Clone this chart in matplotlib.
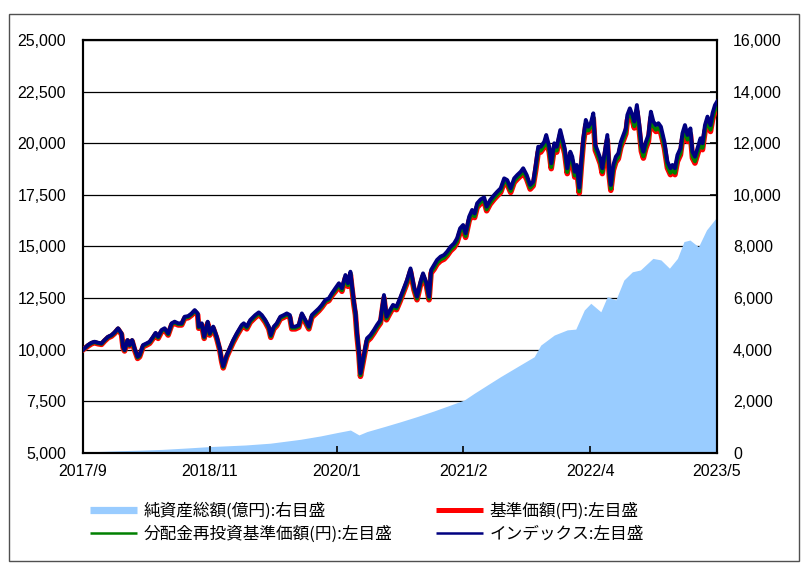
import matplotlib

matplotlib.use("Agg")

import matplotlib.pyplot as plt  # noqa: E402
import numpy as np  # noqa: E402
from matplotlib.lines import Line2D  # noqa: E402
from matplotlib.patches import Rectangle  # noqa: E402
from matplotlib.ticker import FuncFormatter  # noqa: E402

# --- data (x = trading-day index) ----------------------------------------
days = [
    0, 10, 17, 23, 30, 37, 43, 50, 57, 63, 70, 77, 80, 83, 89, 93, 98,
    103, 109, 113, 120, 127, 133, 140, 145, 150, 157, 163, 170, 177, 183,
    190, 197, 203, 210, 217, 223, 229, 231, 237, 242, 249, 253, 260, 267,
    273, 277, 280, 287, 293,
    300, 307, 317, 321, 327, 334, 344, 351, 357, 364, 371, 375, 381, 387,
    394, 401, 407, 413, 417, 424, 431, 437, 444, 451, 457, 464, 471, 477,
    484, 491, 497,
    504, 511, 517, 524, 529, 534, 537, 541, 544, 547, 551, 554, 557, 562,
    567, 574, 581, 587, 594, 601, 606, 613, 619, 626, 633, 641, 647, 654,
    661, 667, 674, 679, 686, 691, 695,
    701, 707, 714, 721, 727, 734, 741, 747, 753, 759, 764, 771, 777, 782,
    787, 794, 801, 806, 813, 821, 827, 834, 841, 847, 854, 861, 867, 874,
    879, 886, 893, 899,
    904, 909, 914, 921, 925, 931, 935, 941, 946, 953, 957, 962, 967, 973,
    977, 982, 986, 991, 995, 999, 1004, 1009, 1014, 1019, 1023, 1027, 1033,
    1037, 1043, 1047, 1051, 1054, 1059, 1064, 1069, 1074, 1079, 1084, 1087,
    1092, 1097,
    1101, 1106, 1111, 1115, 1119, 1124, 1129, 1134, 1139, 1144, 1149, 1154,
    1161, 1167, 1173, 1177, 1182, 1187, 1193, 1197, 1202, 1207, 1213, 1217,
    1222, 1227, 1233, 1237, 1242, 1247, 1253, 1257, 1262, 1266,
]

index_vals = [
    10000, 10230, 10340, 10390, 10340, 10310, 10470, 10630, 10710, 10840,
    11040, 10790, 10150, 9990, 10470, 10230, 10470,
    10070, 9660, 9740, 10230, 10310, 10390, 10630, 10820, 10630, 10960,
    11040, 10790, 11280, 11360, 11280, 11280, 11600, 11630, 11760, 11920,
    11760, 11120, 11280, 10630, 11360, 10790, 11120, 10630, 10070, 9500,
    9200, 9740, 10070,
    10470, 10790, 11200, 11280, 11120, 11440, 11680, 11810, 11680, 11440,
    11120, 10710, 11120, 11280, 11600, 11680, 11760, 11680, 11120, 11120,
    11200, 11760, 11440, 11120, 11680, 11840, 12000, 12170, 12410, 12490,
    12730,
    12980, 13220, 12980, 13620, 13220, 13780, 13130, 12330, 11840, 10870,
    9900, 8860, 9260, 9900, 10550, 10710, 10960, 11200, 11440, 12650, 11600,
    11920, 12170, 12090, 12490, 13000, 13380, 13940, 13050, 12570, 13300,
    13700, 13220, 12570, 13860,
    14100, 14350, 14510, 14590, 14750, 14990, 15150, 15400, 15880, 16040,
    15640, 16440, 16770, 16600, 17090, 17280, 17380, 16930, 17250, 17490,
    17650, 17820, 18300, 18220, 17820, 18300, 18460, 18620, 18790, 18460,
    17980, 18140,
    18950, 19830, 19830, 20070, 20400, 19830, 19030, 20000, 19830, 20640,
    20240, 19750, 18790, 19590, 19350, 18620, 18950, 17850, 19110, 20240,
    21130, 20800, 20970, 21450, 19920, 19670, 19270, 18790, 19750, 20400,
    18620, 17980, 18950, 19350, 19510, 20070, 20400, 20720, 21370, 21690,
    21370,
    21050, 21850, 20880, 19920, 19590, 20070, 20400, 21530, 21050, 20880,
    20970, 20800, 20070, 19110, 18790, 18950, 18790, 19430, 19750, 20480,
    20880, 20400, 20720, 19590, 19350, 19750, 20240, 20000, 20880, 21290,
    20880, 21450, 21850, 22010,
]

nav_reinvested = [
    10000, 10210, 10320, 10370, 10320, 10290, 10450, 10610, 10690, 10820,
    11020, 10770, 10130, 9970, 10450, 10210, 10450,
    10030, 9620, 9700, 10190, 10270, 10350, 10590, 10780, 10590, 10920,
    11000, 10750, 11240, 11320, 11240, 11240, 11560, 11590, 11720, 11880,
    11720, 11080, 11240, 10590, 11320, 10750, 11080, 10590, 10030, 9460,
    9160, 9700, 10030,
    10410, 10730, 11140, 11220, 11060, 11380, 11620, 11750, 11620, 11380,
    11060, 10650, 11060, 11220, 11540, 11620, 11700, 11620, 11060, 11060,
    11140, 11700, 11380, 11060, 11620, 11780, 11940, 12110, 12350, 12430,
    12670,
    12890, 13130, 12890, 13530, 13130, 13690, 13040, 12240, 11750, 10780,
    9810, 8770, 9170, 9810, 10460, 10620, 10870, 11110, 11350, 12560, 11510,
    11830, 12080, 12000, 12400, 12910, 13290, 13850, 12960, 12480, 13210,
    13610, 13130, 12480, 13770,
    13970, 14220, 14380, 14460, 14620, 14860, 15020, 15270, 15750, 15910,
    15510, 16310, 16640, 16470, 16960, 17150, 17250, 16800, 17120, 17360,
    17520, 17690, 18170, 18090, 17690, 18170, 18330, 18490, 18660, 18330,
    17850, 18010,
    18770, 19650, 19650, 19890, 20220, 19650, 18850, 19820, 19650, 20460,
    20060, 19570, 18610, 19410, 19170, 18440, 18770, 17670, 18930, 20060,
    20950, 20620, 20790, 21270, 19740, 19490, 19090, 18610, 19570, 20220,
    18440, 17800, 18770, 19170, 19330, 19890, 20220, 20540, 21190, 21510,
    21190,
    20830, 21630, 20660, 19700, 19370, 19850, 20180, 21310, 20830, 20660,
    20750, 20580, 19850, 18890, 18570, 18730, 18570, 19210, 19530, 20260,
    20660, 20180, 20500, 19370, 19130, 19530, 20020, 19780, 20660, 21070,
    20660, 21230, 21630, 21790,
]

nav = [
    10000, 10180, 10290, 10340, 10290, 10260, 10420, 10580, 10660, 10790,
    10990, 10740, 10100, 9940, 10420, 10180, 10420,
    9990, 9580, 9660, 10150, 10230, 10310, 10550, 10740, 10550, 10880,
    10960, 10710, 11200, 11280, 11200, 11200, 11520, 11550, 11680, 11840,
    11680, 11040, 11200, 10550, 11280, 10710, 11040, 10550, 9990, 9420,
    9120, 9660, 9990,
    10360, 10680, 11090, 11170, 11010, 11330, 11570, 11700, 11570, 11330,
    11010, 10600, 11010, 11170, 11490, 11570, 11650, 11570, 11010, 11010,
    11090, 11650, 11330, 11010, 11570, 11730, 11890, 12060, 12300, 12380,
    12620,
    12830, 13070, 12830, 13470, 13070, 13630, 12980, 12180, 11690, 10720,
    9750, 8710, 9110, 9750, 10400, 10560, 10810, 11050, 11290, 12500, 11450,
    11770, 12020, 11940, 12340, 12850, 13230, 13790, 12900, 12420, 13150,
    13550, 13070, 12420, 13710,
    13900, 14150, 14310, 14390, 14550, 14790, 14950, 15200, 15680, 15840,
    15440, 16240, 16570, 16400, 16890, 17080, 17180, 16730, 17050, 17290,
    17450, 17620, 18100, 18020, 17620, 18100, 18260, 18420, 18590, 18260,
    17780, 17940,
    18690, 19570, 19570, 19810, 20140, 19570, 18770, 19740, 19570, 20380,
    19980, 19490, 18530, 19330, 19090, 18360, 18690, 17590, 18850, 19980,
    20870, 20540, 20710, 21190, 19660, 19410, 19010, 18530, 19490, 20140,
    18360, 17720, 18690, 19090, 19250, 19810, 20140, 20460, 21110, 21430,
    21110,
    20740, 21540, 20570, 19610, 19280, 19760, 20090, 21220, 20740, 20570,
    20660, 20490, 19760, 18800, 18480, 18640, 18480, 19120, 19440, 20170,
    20570, 20090, 20410, 19280, 19040, 19440, 19930, 19690, 20570, 20980,
    20570, 21140, 21540, 21700,
]

asset_days = [
    0, 34, 76, 114, 158, 204, 254, 324, 374, 434, 474, 507, 534, 551, 567,
    601, 634, 667, 701, 734, 761, 781, 807, 834, 867, 901, 914, 941, 967,
    984, 1001, 1014, 1034, 1047, 1064, 1080, 1097, 1113, 1138, 1154, 1171,
    1187, 1200, 1212, 1229, 1245, 1266,
]
net_assets = [
    30, 60, 90, 110, 140, 190, 250, 310, 380, 530, 660, 790, 890, 700, 830,
    1020, 1210, 1410, 1630, 1860, 2050, 2310, 2630, 2960, 3340, 3730, 4180,
    4570, 4770, 4800, 5540, 5800, 5470, 6060, 5930, 6700, 7020, 7090, 7540,
    7480, 7160, 7540, 8190, 8250, 7990, 8640, 9150,
]

tick_labels = ["2017/9", "2018/11", "2020/1", "2021/2", "2022/4", "2023/5"]

labels = {
    "assets": "純資産総額(億円):右目盛",
    "nav": "基準価額(円):左目盛",
    "reinv": "分配金再投資基準価額(円):左目盛",
    "index": "インデックス:左目盛",
}

C_AREA = "#99ccff"
C_NAV = "#ff0000"
C_REINV = "#008000"
C_INDEX = "#000080"

num_font = "Liberation Sans"
jp_font = ["Noto Sans CJK JP", "DejaVu Sans"]

W, H = 808, 568
fig = plt.figure(figsize=(W / 100, H / 100), dpi=100)
fig.patch.set_facecolor("white")

ax = fig.add_axes([83 / W, 115 / H, 634 / W, 413 / H])
ax2 = ax.twinx()
ax2.set_zorder(1)
ax.set_zorder(2)
ax.patch.set_visible(False)
ax2.patch.set_facecolor("white")

# right axis: net assets area + gridlines (area hides the grid)
ax2.fill_between(asset_days, net_assets, 0, color=C_AREA, lw=0, zorder=2)
ax2.set_ylim(0, 16000)
ax2.set_yticks(np.arange(0, 16001, 2000))
ax2.set_axisbelow(True)
ax2.grid(True, axis="y", color="black", lw=0.9, zorder=0.5)

# left axis: price lines
ax.plot(days, nav, color=C_NAV, lw=4.0, solid_joinstyle="round", zorder=3)
ax.plot(days, nav_reinvested, color=C_REINV, lw=2.9,
        solid_joinstyle="round", zorder=4)
ax.plot(days, index_vals, color=C_INDEX, lw=2.8,
        solid_joinstyle="round", zorder=5)
ax.set_ylim(5000, 25000)
ax.set_yticks(np.arange(5000, 25001, 2500))
ax.set_xlim(0, days[-1])
ax.set_xticks(np.linspace(0, days[-1], len(tick_labels)))
ax.set_xticklabels(tick_labels)

fmt = FuncFormatter(lambda v, _: f"{v:,.0f}")
ax.yaxis.set_major_formatter(fmt)
ax2.yaxis.set_major_formatter(fmt)

ax.tick_params(axis="y", direction="in", length=0, pad=12.2, labelsize=11.5)
ax.tick_params(axis="x", direction="in", length=5, width=1.2, pad=8,
               labelsize=11.5, color="black")
ax2.tick_params(axis="y", direction="in", length=5, width=1.2, pad=11.5,
                labelsize=11.5, color="black")
for lab in ax.get_xticklabels() + ax.get_yticklabels() + ax2.get_yticklabels():
    lab.set_fontfamily(num_font)

for a in (ax, ax2):
    for sp in a.spines.values():
        sp.set_color("black")
        sp.set_linewidth(1.5)

# legend: two columns placed as in the reference
leg_kw = dict(frameon=False, handlelength=2.8, handletextpad=0.42,
              labelspacing=0.36, borderpad=0, borderaxespad=0,
              loc="center left", prop={"family": jp_font, "size": 12})
col1 = [Line2D([], [], color=C_AREA, lw=5.2, solid_capstyle="butt"),
        Line2D([], [], color=C_REINV, lw=1.8, solid_capstyle="butt")]
col2 = [Line2D([], [], color=C_NAV, lw=3.6, solid_capstyle="butt"),
        Line2D([], [], color=C_INDEX, lw=1.8, solid_capstyle="butt")]
fig.legend(col1, [labels["assets"], labels["reinv"]],
           bbox_to_anchor=(90 / W, 1 - 522.5 / H), **leg_kw)
fig.legend(col2, [labels["nav"], labels["index"]],
           bbox_to_anchor=(436 / W, 1 - 522.5 / H), **leg_kw)

# outer frame around the whole chart
fig.patches.append(Rectangle((9 / W, 1 - 561 / H), 790 / W, 547 / H,
                             transform=fig.transFigure, fill=False,
                             edgecolor="#505050", lw=1.0))

fig.savefig("out.png", dpi=100)
